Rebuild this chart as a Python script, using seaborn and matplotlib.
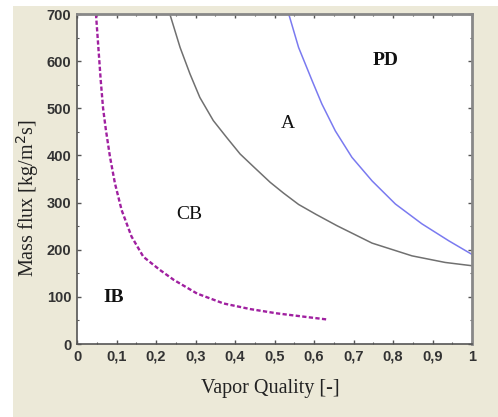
import matplotlib
matplotlib.use("Agg")
import matplotlib.pyplot as plt
import seaborn as sns
import pandas as pd
from matplotlib.patches import Rectangle
from matplotlib.ticker import MultipleLocator, FuncFormatter

# Boundary curves
ib_cb_x = [0.048, 0.054, 0.060, 0.066, 0.073, 0.0835, 0.096, 0.113, 0.138, 0.168,
           0.210, 0.245, 0.304, 0.371, 0.439, 0.506, 0.574, 0.633]
ib_cb_y = [700, 630, 560, 500, 455, 397, 341, 284, 228, 185,
           157, 136, 107, 86, 74, 65, 58, 52]

cb_a_x = [0.235, 0.261, 0.286, 0.311, 0.345, 0.379, 0.413, 0.447, 0.489, 0.523,
          0.561, 0.605, 0.658, 0.747, 0.848, 0.932, 1.0]
cb_a_y = [700, 629, 573, 523, 474, 438, 403, 376, 343, 320,
          296, 275, 251, 214, 187, 173, 166]

a_pd_x = [0.536, 0.561, 0.595, 0.620, 0.654, 0.696, 0.747, 0.806, 0.873, 0.941, 1.0]
a_pd_y = [700, 629, 559, 509, 452, 396, 346, 297, 255, 219, 190]

region_labels = ["PD", "A", "CB", "IB"]
region_x = [0.781, 0.534, 0.285, 0.094]
region_y = [601, 467, 274, 99]

x_ticks = [0, 0.1, 0.2, 0.3, 0.4, 0.5, 0.6, 0.7, 0.8, 0.9, 1.0]
y_ticks = [0, 100, 200, 300, 400, 500, 600, 700]

sns.set_style("white")
plt.rcParams["font.family"] = ["Liberation Serif", "DejaVu Serif"]

W, H = 498, 417
fig = plt.figure(figsize=(W / 100, H / 100), dpi=100, facecolor="white")
fig.patches.append(Rectangle((13 / W, 0), 1 - 13 / W, 1 - 6 / H, transform=fig.transFigure,
                             facecolor="#ECE9D8", edgecolor="none", zorder=-10))

ax = fig.add_axes([77 / W, 1 - 344 / H, (472 - 77) / W, (344 - 14) / H])
ax.set_facecolor("white")

df1 = pd.DataFrame({"x": ib_cb_x, "y": ib_cb_y})
df2 = pd.DataFrame({"x": cb_a_x, "y": cb_a_y})
df3 = pd.DataFrame({"x": a_pd_x, "y": a_pd_y})

sns.lineplot(data=df1, x="x", y="y", ax=ax, color="#A020A0", lw=1.7, linestyle=(0, (1.8, 1.0)),
             sort=False, estimator=None)
sns.lineplot(data=df2, x="x", y="y", ax=ax, color="#707070", lw=1.1, sort=False, estimator=None)
sns.lineplot(data=df3, x="x", y="y", ax=ax, color="#7A7AF0", lw=1.1, sort=False, estimator=None)

for lab, xx, yy in zip(region_labels, region_x, region_y):
    ax.text(xx, yy, lab, ha="center", va="center", fontsize=14, color="#111111",
            family=["Liberation Serif"], fontweight="bold" if lab in ("PD", "IB") else "normal")

ax.set_xlim(0, 1)
ax.set_ylim(0, 700)
ax.set_xticks(x_ticks)
ax.set_yticks(y_ticks)
ax.xaxis.set_minor_locator(MultipleLocator(0.05))
ax.yaxis.set_minor_locator(MultipleLocator(50))
ax.xaxis.set_major_formatter(FuncFormatter(lambda v, p: ("%g" % round(v, 2)).replace(".", ",")))

ax.tick_params(which="both", direction="in", top=True, right=True, bottom=True, left=True,
               colors="#555555", labelcolor="#333333")
ax.tick_params(which="major", length=3, width=1, pad=4)
ax.tick_params(which="minor", length=1.5, width=0.8)
for lab in ax.get_xticklabels() + ax.get_yticklabels():
    lab.set_family(["Liberation Sans"])
    lab.set_fontweight("bold")
    lab.set_fontsize(10.5)

for side in ["left", "bottom"]:
    ax.spines[side].set_color("#555555")
    ax.spines[side].set_linewidth(1.2)
for side in ["top", "right"]:
    ax.spines[side].set_color("#888888")
    ax.spines[side].set_linewidth(2.0)

ax.set_xlabel("Vapor Quality [-]", fontsize=14.5, color="#222222")
ax.set_ylabel("Mass flux [kg/m$^{2}$s]", fontsize=14.5, color="#222222")
ax.xaxis.set_label_coords(0.489, (344 - 388) / 330, transform=ax.transAxes)
ax.yaxis.set_label_coords((28 - 77) / 395, (344 - 198) / 330, transform=ax.transAxes)
ax.xaxis.label.set_va("center")
ax.yaxis.label.set_va("center")

fig.savefig("out.png", dpi=100, facecolor=fig.get_facecolor())
